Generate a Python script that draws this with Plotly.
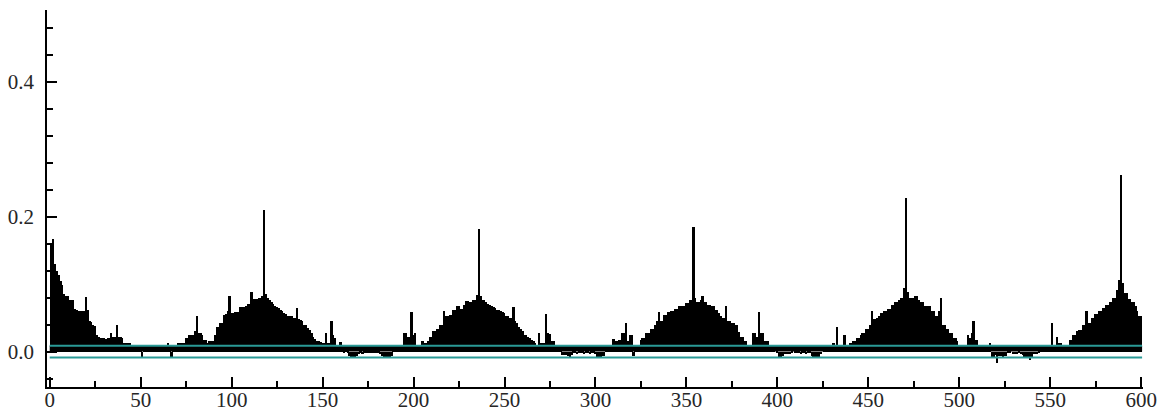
import plotly.graph_objects as go

# ---- data: autocorrelation at lags 1..600 ----
acf = [
    0.161, 0.167, 0.129, 0.120, 0.114, 0.105, 0.099, 0.085, 0.083, 0.082,
    0.077, 0.077, 0.077, 0.063, 0.062, 0.060, 0.060, 0.060, 0.060, 0.081,
    0.062, 0.046, 0.044, 0.039, 0.038, 0.025, 0.022, 0.020, 0.020, 0.020,
    0.019, 0.020, 0.020, 0.027, 0.022, 0.022, 0.040, 0.022, 0.022, 0.020,
    0.013, 0.013, 0.013, 0.012, 0.007, 0.007, 0.007, 0.006, 0.002, 0.002,
    -0.008, 0.002, 0.005, 0.005, 0.006, 0.006, 0.006, 0.005, 0.006, 0.006,
    0.006, 0.005, 0.006, 0.006, 0.012, 0.002, -0.008, 0.002, 0.002, 0.004,
    0.012, 0.012, 0.013, 0.013, 0.020, 0.020, 0.025, 0.025, 0.025, 0.030,
    0.052, 0.027, 0.027, 0.025, 0.017, 0.017, 0.012, 0.016, 0.016, 0.016,
    0.025, 0.036, 0.036, 0.043, 0.043, 0.054, 0.055, 0.060, 0.083, 0.057,
    0.057, 0.058, 0.058, 0.058, 0.066, 0.066, 0.066, 0.068, 0.071, 0.071,
    0.088, 0.078, 0.078, 0.078, 0.079, 0.080, 0.083, 0.210, 0.085, 0.080,
    0.077, 0.074, 0.071, 0.068, 0.066, 0.064, 0.062, 0.060, 0.057, 0.055,
    0.053, 0.052, 0.052, 0.050, 0.050, 0.064, 0.048, 0.047, 0.045, 0.040,
    0.039, 0.035, 0.032, 0.028, 0.022, 0.018, 0.015, 0.015, 0.014, 0.012,
    0.012, 0.028, 0.012, 0.012, 0.046, 0.025, 0.020, 0.009, 0.009, 0.014,
    0.003, -0.001, 0.002, -0.002, -0.006, -0.008, -0.008, -0.008, -0.007, -0.004,
    -0.002, -0.004, -0.002, -0.001, -0.002, -0.001, -0.002, -0.001, -0.002, -0.001,
    -0.002, -0.003, -0.006, -0.008, -0.008, -0.008, -0.008, -0.006, 0.002, 0.004,
    0.005, 0.005, 0.005, 0.005, 0.027, 0.027, 0.022, 0.022, 0.058, 0.025,
    0.028, 0.006, 0.006, 0.006, 0.015, 0.012, 0.012, 0.015, 0.022, 0.022,
    0.030, 0.030, 0.034, 0.034, 0.039, 0.039, 0.060, 0.052, 0.052, 0.054,
    0.054, 0.062, 0.062, 0.067, 0.067, 0.063, 0.063, 0.069, 0.075, 0.075,
    0.073, 0.073, 0.077, 0.077, 0.084, 0.182, 0.082, 0.077, 0.077, 0.073,
    0.071, 0.069, 0.068, 0.066, 0.064, 0.062, 0.061, 0.060, 0.058, 0.057,
    0.053, 0.052, 0.050, 0.050, 0.066, 0.045, 0.043, 0.037, 0.033, 0.030,
    0.025, 0.024, 0.022, 0.020, 0.017, 0.016, 0.013, 0.008, 0.028, 0.012,
    0.012, 0.012, 0.055, 0.028, 0.026, 0.015, 0.015, 0.007, 0.004, 0.002,
    0.001, -0.005, -0.005, -0.005, -0.006, -0.010, -0.005, -0.001, -0.001, -0.004,
    -0.001, -0.002, -0.002, -0.004, -0.002, -0.002, -0.004, -0.002, -0.002, -0.003,
    -0.008, -0.008, -0.008, -0.007, -0.006, 0.003, 0.005, 0.005, 0.006, 0.018,
    0.015, 0.015, 0.017, 0.017, 0.027, 0.027, 0.043, 0.015, 0.025, 0.025,
    -0.006, 0.006, 0.006, 0.006, 0.017, 0.020, 0.020, 0.028, 0.028, 0.028,
    0.033, 0.033, 0.039, 0.045, 0.058, 0.045, 0.045, 0.054, 0.054, 0.058,
    0.058, 0.060, 0.060, 0.063, 0.063, 0.068, 0.068, 0.068, 0.068, 0.072,
    0.072, 0.077, 0.077, 0.185, 0.080, 0.074, 0.074, 0.077, 0.083, 0.073,
    0.073, 0.069, 0.069, 0.067, 0.067, 0.062, 0.062, 0.057, 0.052, 0.050,
    0.050, 0.068, 0.045, 0.045, 0.042, 0.042, 0.039, 0.039, 0.029, 0.022,
    0.022, 0.015, 0.015, 0.002, 0.006, 0.006, 0.028, 0.028, 0.022, 0.058,
    0.027, 0.027, 0.015, 0.015, 0.015, 0.006, 0.006, 0.005, 0.000, -0.001,
    -0.008, -0.008, -0.006, -0.004, -0.003, -0.004, -0.003, -0.001, 0.000, -0.001,
    -0.002, -0.001, -0.003, -0.002, -0.001, -0.003, -0.002, -0.002, -0.007, -0.008,
    -0.008, -0.008, -0.008, -0.004, 0.000, 0.004, 0.005, 0.005, 0.005, 0.006,
    0.013, 0.006, 0.037, 0.006, 0.006, 0.005, 0.025, 0.006, 0.006, 0.012,
    0.012, 0.015, 0.015, 0.020, 0.020, 0.025, 0.028, 0.028, 0.033, 0.033,
    0.039, 0.060, 0.048, 0.048, 0.050, 0.052, 0.057, 0.057, 0.060, 0.060,
    0.063, 0.063, 0.069, 0.069, 0.073, 0.073, 0.076, 0.079, 0.079, 0.094,
    0.228, 0.088, 0.079, 0.079, 0.080, 0.082, 0.082, 0.077, 0.073, 0.073,
    0.067, 0.067, 0.068, 0.068, 0.060, 0.060, 0.053, 0.053, 0.060, 0.079,
    0.039, 0.039, 0.033, 0.033, 0.027, 0.027, 0.020, 0.020, 0.015, 0.007,
    0.006, 0.006, 0.006, 0.006, 0.025, 0.020, 0.027, 0.045, 0.017, 0.017,
    0.006, 0.005, 0.006, 0.005, 0.006, 0.005, 0.012, -0.008, -0.008, -0.005,
    -0.017, -0.007, -0.007, -0.008, -0.007, -0.006, -0.002, -0.002, 0.000, -0.003,
    -0.003, -0.003, -0.002, -0.003, -0.005, -0.008, -0.008, -0.009, -0.013, -0.008,
    -0.004, -0.004, -0.003, -0.002, 0.004, 0.005, 0.005, 0.006, 0.009, 0.009,
    0.043, 0.010, 0.009, 0.022, 0.012, 0.012, 0.006, 0.005, 0.005, 0.006,
    0.017, 0.017, 0.025, 0.025, 0.031, 0.032, 0.032, 0.039, 0.039, 0.060,
    0.042, 0.042, 0.050, 0.050, 0.055, 0.055, 0.060, 0.060, 0.065, 0.065,
    0.069, 0.069, 0.074, 0.074, 0.079, 0.079, 0.091, 0.106, 0.261, 0.102,
    0.087, 0.087, 0.078, 0.078, 0.073, 0.073, 0.067, 0.060, 0.053, 0.053,
]
lags = list(range(1, len(acf) + 1))
conf_bound = 0.0087          # +/- confidence band
x_ticks = [0, 50, 100, 150, 200, 250, 300, 350, 400, 450, 500, 550, 600]
y_ticks = [0.0, 0.2, 0.4]
y_tick_labels = ["0.0", "0.2", "0.4"]

TEAL = "#2a9a96"
TEXT = "#262626"
FONT = "Liberation Serif"

fig = go.Figure()
fig.add_trace(go.Bar(
    x=lags, y=acf, marker=dict(color="black", line=dict(width=0)),
    width=1.0, showlegend=False, hoverinfo="x+y",
))

xmax = lags[-1]
shapes = [
    # dark strip between zero and the upper bound
    dict(type="rect", xref="x", yref="y", x0=0, x1=xmax + 0.5, y0=0, y1=conf_bound,
         fillcolor="black", line=dict(width=0), layer="above"),
    dict(type="line", xref="x", yref="y", x0=0, x1=xmax + 0.5, y0=conf_bound, y1=conf_bound,
         line=dict(color=TEAL, width=2), layer="above"),
    dict(type="line", xref="x", yref="y", x0=0, x1=xmax + 0.5, y0=-conf_bound, y1=-conf_bound,
         line=dict(color=TEAL, width=2), layer="above"),
]

fig.update_layout(
    width=1171, height=412,
    margin=dict(l=47, r=28, t=10, b=25, autoexpand=False),
    plot_bgcolor="white", paper_bgcolor="white",
    bargap=0, shapes=shapes,
    font=dict(family=FONT, size=21, color=TEXT),
    xaxis=dict(
        range=[-1.5, 601], showgrid=False, zeroline=False, automargin=False,
        showline=True, linecolor="black", linewidth=1.5,
        ticks="inside", ticklen=10, tickwidth=1.5, tickcolor="black",
        tickvals=x_ticks, ticktext=[str(v) for v in x_ticks],
        minor=dict(tickvals=[v + 25 for v in x_ticks[:-1]], ticks="inside",
                   ticklen=6, tickwidth=1.5, tickcolor="black"),
        tickfont=dict(family=FONT, size=21, color=TEXT),
        ticklabelstandoff=-7,
    ),
    yaxis=dict(
        range=[-0.0525, 0.506], showgrid=False, zeroline=False, automargin=False,
        showline=True, linecolor="black", linewidth=1.5,
        ticks="inside", ticklen=10, tickwidth=1.5, tickcolor="black",
        tickvals=y_ticks, ticktext=y_tick_labels,
        minor=dict(dtick=0.04, tick0=0, ticks="inside",
                   ticklen=6, tickwidth=1.5, tickcolor="black"),
        tickfont=dict(family=FONT, size=21, color=TEXT),
        ticklabelstandoff=7,
    ),
)

fig.write_html("out.html")
